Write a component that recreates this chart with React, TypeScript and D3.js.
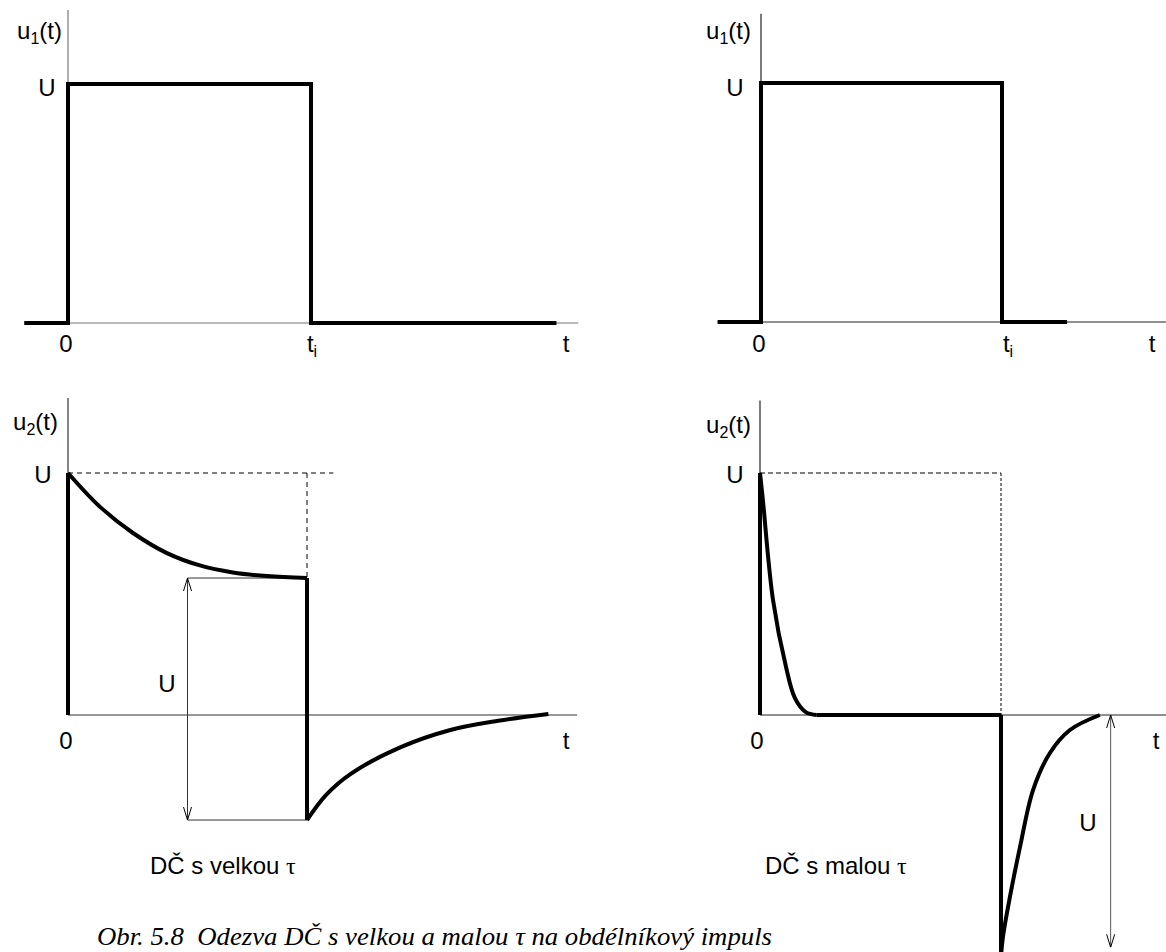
import React from "react";
import * as d3 from "d3";

// ---------- data (t in units of t_i, value in units of U) ----------
const pulseLong = [
  { t: -0.18, v: 0 }, { t: 0, v: 0 }, { t: 0, v: 1 }, { t: 1, v: 1 }, { t: 1, v: 0 }, { t: 2.01, v: 0 },
];
const pulseShort = [
  { t: -0.18, v: 0 }, { t: 0, v: 0 }, { t: 0, v: 1 }, { t: 1, v: 1 }, { t: 1, v: 0 }, { t: 1.27, v: 0 },
];
// big tau: decay during pulse
const bigDecay = [
  { t: 0, v: 1.0 }, { t: 0.134, v: 0.86 }, { t: 0.272, v: 0.752 }, { t: 0.414, v: 0.669 },
  { t: 0.552, v: 0.618 }, { t: 0.69, v: 0.589 }, { t: 0.833, v: 0.574 }, { t: 1.0, v: 0.566 },
];
const bigRecover = [
  { t: 1.0, v: -0.434 }, { t: 1.08, v: -0.33 }, { t: 1.18, v: -0.245 }, { t: 1.39, v: -0.134 },
  { t: 1.6, v: -0.062 }, { t: 1.8, v: -0.024 }, { t: 2.01, v: 0.004 },
];
// small tau
const smallDecay = [
  { t: 0, v: 1.0 }, { t: 0.012, v: 0.888 }, { t: 0.054, v: 0.475 }, { t: 0.108, v: 0.198 },
  { t: 0.145, v: 0.07 }, { t: 0.19, v: 0.012 }, { t: 0.235, v: 0 },
];
const smallFlat = [{ t: 0.235, v: 0 }, { t: 1.0, v: 0 }];
const smallRecover = [
  { t: 1.0, v: -1.0 }, { t: 1.008, v: -0.917 }, { t: 1.037, v: -0.752 }, { t: 1.079, v: -0.545 },
  { t: 1.133, v: -0.31 }, { t: 1.203, v: -0.157 }, { t: 1.286, v: -0.062 }, { t: 1.41, v: 0 },
];

// panel geometry
const panels = [
  { id: "tl", x0: 68, ux: 243, y0: 323, uy: 239, xa: [-0.18, 2.1], ya: [0, 1.31] },
  { id: "tr", x0: 761, ux: 241, y0: 322, uy: 239, xa: [-0.18, 1.68], ya: [0, 1.29] },
  { id: "bl", x0: 68, ux: 239, y0: 715, uy: 242, xa: [0, 2.13], ya: [0, 1.31] },
  { id: "br", x0: 760, ux: 241, y0: 715, uy: 242, xa: [0, 1.7], ya: [0, 1.3] },
];

const FONT = "'Liberation Sans', Arial, sans-serif";
const SERIF = "'Liberation Serif', 'Times New Roman', serif";
const FS = 24;
const SUB = 16;

type P = { t: number; v: number };

function scales(p: typeof panels[0]) {
  const x = d3.scaleLinear().domain([0, 1]).range([p.x0, p.x0 + p.ux]);
  const y = d3.scaleLinear().domain([0, 1]).range([p.y0, p.y0 - p.uy]);
  return { x, y };
}

function pathOf(pts: P[], x: any, y: any, curve: any = d3.curveLinear) {
  return d3.line<P>().x((d) => x(d.t)).y((d) => y(d.v)).curve(curve)(pts) || "";
}

function Axes({ p, color = "#555" }: { p: typeof panels[0]; color?: string }) {
  const { x, y } = scales(p);
  return (
    <g stroke={color} strokeWidth={1.2}>
      <line x1={x(p.xa[0])} x2={x(p.xa[1])} y1={y(0)} y2={y(0)} />
      <line x1={x(0)} x2={x(0)} y1={y(p.ya[0])} y2={y(p.ya[1])} />
    </g>
  );
}

function ULabel({ x, y, n }: { x: number; y: number; n: string }) {
  return (
    <text x={x} y={y} textAnchor="end" fontFamily={FONT} fontSize={FS}>
      u<tspan fontSize={SUB} dy={5}>{n}</tspan>
      <tspan dy={-5}>(t)</tspan>
    </text>
  );
}

function T({ x, y, children, anchor = "middle" }: any) {
  return (
    <text x={x} y={y} textAnchor={anchor} fontFamily={FONT} fontSize={FS}>
      {children}
    </text>
  );
}

function Ti({ x, y }: { x: number; y: number }) {
  return (
    <text x={x} y={y} textAnchor="middle" fontFamily={FONT} fontSize={FS}>
      t<tspan fontSize={SUB} dy={5}>i</tspan>
    </text>
  );
}

export default function App() {
  const [tl, tr, bl, br] = panels;
  const sTL = scales(tl), sTR = scales(tr), sBL = scales(bl), sBR = scales(br);
  const thick = { fill: "none", stroke: "#000", strokeWidth: 4, strokeLinejoin: "miter" as const };
  const curve = d3.curveCatmullRom.alpha(0.5);

  return (
    <svg width={1166} height={952} style={{ position: "absolute", left: 0, top: 0, background: "#fff" }}>
      <defs>
        <marker id="arr" viewBox="0 0 13 10" refX="13" refY="5" markerWidth="13" markerHeight="10"
          markerUnits="userSpaceOnUse" orient="auto-start-reverse">
          <path d="M0,1 L13,5 L0,9" fill="none" stroke="#000" strokeWidth={1} />
        </marker>
      </defs>

      {/* ---------- top-left ---------- */}
      <Axes p={tl} color="#777" />
      <path d={pathOf(pulseLong, sTL.x, sTL.y)} {...thick} />
      <ULabel x={62} y={39} n="1" />
      <T x={47} y={96}>U</T>
      <T x={66} y={352}>0</T>
      <Ti x={312} y={352} />
      <T x={566} y={352}>t</T>

      {/* ---------- top-right ---------- */}
      <Axes p={tr} color="#222" />
      <path d={pathOf(pulseShort, sTR.x, sTR.y)} {...thick} />
      <ULabel x={751} y={39} n="1" />
      <T x={735} y={96}>U</T>
      <T x={759} y={352}>0</T>
      <Ti x={1008} y={352} />
      <T x={1152} y={352}>t</T>

      {/* ---------- bottom-left (big tau) ---------- */}
      <Axes p={bl} color="#333" />
      <g stroke="#000" strokeWidth={1} strokeDasharray="5,4" fill="none">
        <line x1={sBL.x(0)} x2={sBL.x(1.11)} y1={sBL.y(1)} y2={sBL.y(1)} />
        <line x1={sBL.x(1)} x2={sBL.x(1)} y1={sBL.y(1)} y2={sBL.y(0.566)} />
      </g>
      <g stroke="#333" strokeWidth={1} fill="none">
        <line x1={sBL.x(0.5)} x2={sBL.x(1)} y1={sBL.y(0.566)} y2={sBL.y(0.566)} />
        <line x1={sBL.x(0.5)} x2={sBL.x(1)} y1={sBL.y(-0.434)} y2={sBL.y(-0.434)} />
        <line x1={sBL.x(0.5)} x2={sBL.x(0.5)} y1={sBL.y(0.566)} y2={sBL.y(-0.434)}
          markerStart="url(#arr)" markerEnd="url(#arr)" />
      </g>
      <path d={pathOf([{ t: 0, v: 0 }, { t: 0, v: 1 }], sBL.x, sBL.y)} {...thick} />
      <path d={pathOf(bigDecay, sBL.x, sBL.y, curve)} {...thick} />
      <path d={pathOf([{ t: 1, v: 0.566 }, { t: 1, v: -0.434 }], sBL.x, sBL.y)} {...thick} />
      <path d={pathOf(bigRecover, sBL.x, sBL.y, curve)} {...thick} />
      <ULabel x={58} y={430} n="2" />
      <T x={43} y={483}>U</T>
      <T x={66} y={749}>0</T>
      <T x={566} y={749}>t</T>
      <T x={167} y={692}>U</T>
      <text x={150} y={874} fontFamily={FONT} fontSize={FS}>
        DČ s velkou <tspan fontFamily={SERIF}>τ</tspan>
      </text>

      {/* ---------- bottom-right (small tau) ---------- */}
      <Axes p={br} color="#222" />
      <g stroke="#000" strokeWidth={1} fill="none">
        <line x1={sBR.x(0)} x2={sBR.x(1)} y1={sBR.y(1)} y2={sBR.y(1)} strokeDasharray="5,3" />
        <line x1={sBR.x(1)} x2={sBR.x(1)} y1={sBR.y(1)} y2={sBR.y(0)} strokeDasharray="3,2" />
      </g>
      <g stroke="#555" strokeWidth={1} fill="none">
        <line x1={sBR.x(1.455)} x2={sBR.x(1.455)} y1={sBR.y(0)} y2={sBR.y(-0.96)}
          markerStart="url(#arr)" markerEnd="url(#arr)" />
      </g>
      <path d={pathOf([{ t: 0, v: 0 }, { t: 0, v: 1 }], sBR.x, sBR.y)} {...thick} />
      <path d={pathOf(smallDecay, sBR.x, sBR.y, curve)} {...thick} />
      <path d={pathOf(smallFlat, sBR.x, sBR.y)} {...thick} />
      <path d={pathOf([{ t: 1, v: 0 }, { t: 1, v: -1.05 }], sBR.x, sBR.y)} {...thick} />
      <path d={pathOf(smallRecover, sBR.x, sBR.y, curve)} {...thick} />
      <ULabel x={751} y={433} n="2" />
      <T x={735} y={483}>U</T>
      <T x={757} y={749}>0</T>
      <T x={1156} y={749}>t</T>
      <T x={1088} y={831}>U</T>
      <text x={765} y={874} fontFamily={FONT} fontSize={FS}>
        DČ s malou <tspan fontFamily={SERIF}>τ</tspan>
      </text>

      {/* caption */}
      <text x={97} y={945} fontFamily={SERIF} fontStyle="italic" fontSize={26} xmlSpace="preserve"
        textLength={675} lengthAdjust="spacingAndGlyphs">
        Obr. 5.8  Odezva DČ s velkou a malou τ na obdélníkový impuls
      </text>
    </svg>
  );
}
